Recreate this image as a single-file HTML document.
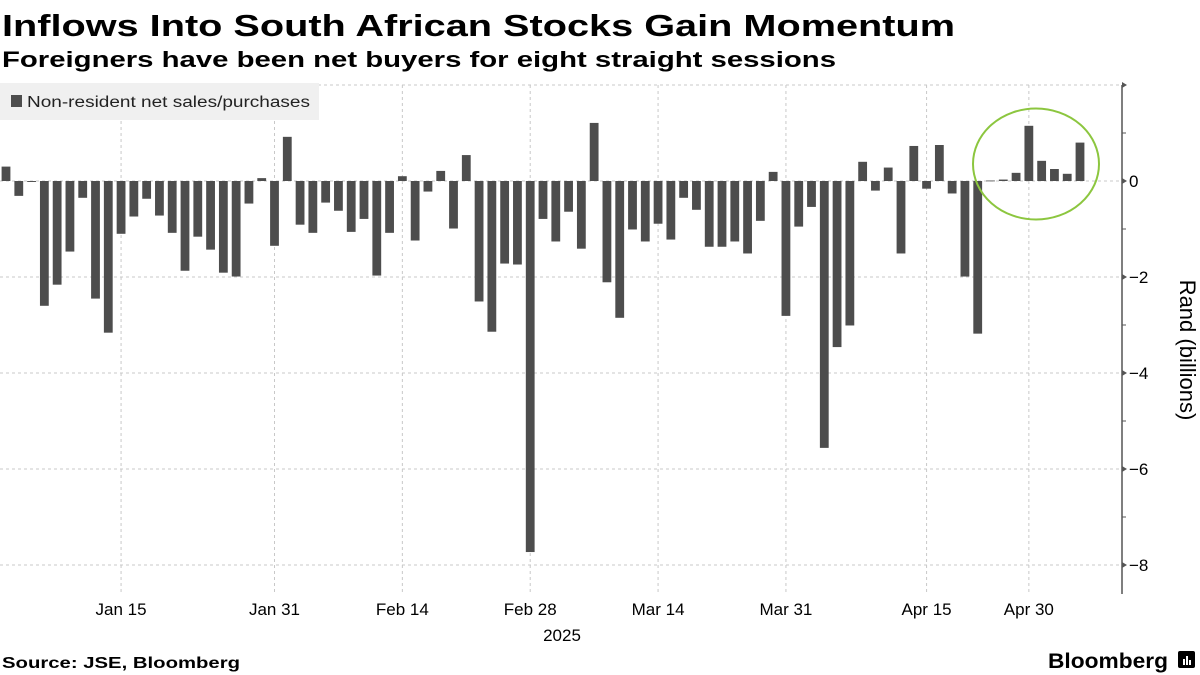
<!DOCTYPE html>
<html><head><meta charset="utf-8"><style>
html,body{margin:0;padding:0;background:#fff;}
svg{display:block;font-family:"Liberation Sans",sans-serif;}
</style></head><body>
<svg id="chart" width="1200" height="675" viewBox="0 0 1200 675">
<text x="2" y="36" font-size="31" font-weight="bold" fill="#000" textLength="953" lengthAdjust="spacingAndGlyphs">Inflows Into South African Stocks Gain Momentum</text>
<text x="2" y="67" font-size="22" font-weight="bold" fill="#000" textLength="834" lengthAdjust="spacingAndGlyphs">Foreigners have been net buyers for eight straight sessions</text>
<g id="grid"></g>
<g id="bars"></g>
<g id="axis"></g>
<g id="xaxis"></g>
<g>
<rect x="0" y="83" width="319" height="37" fill="#f0f0f0"/>
<rect x="11" y="95" width="11" height="12" fill="#4d4d4d"/>
<text x="27" y="107" font-size="15.5" fill="#222" textLength="283" lengthAdjust="spacingAndGlyphs">Non-resident net sales/purchases</text>
</g>
<ellipse cx="1036" cy="164" rx="63" ry="55.5" fill="none" stroke="#8cc63f" stroke-width="2"/>
<text transform="translate(1180,350) rotate(90)" text-anchor="middle" font-size="22" fill="#000">Rand (billions)</text>
<text x="2" y="668" font-size="16" font-weight="bold" fill="#000" textLength="238" lengthAdjust="spacingAndGlyphs">Source: JSE, Bloomberg</text>
<text x="1048" y="668" font-size="21" font-weight="bold" fill="#000" textLength="120" lengthAdjust="spacingAndGlyphs">Bloomberg</text>
<g><rect x="1178" y="651" width="17" height="17" rx="2" fill="#000"/><rect x="1183" y="659" width="2" height="6" fill="#fff"/><rect x="1186" y="656" width="2" height="9" fill="#fff"/><rect x="1189" y="660" width="2" height="5" fill="#fff"/></g>
</svg>
<script>
const values=[0.30,-0.31,-0.02,-2.6,-2.16,-1.47,-0.35,-2.45,-3.16,-1.10,-0.74,-0.37,-0.72,-1.08,-1.87,-1.16,-1.43,-1.91,-1.99,-0.47,0.06,-1.35,0.92,-0.91,-1.08,-0.45,-0.62,-1.06,-0.79,-1.97,-1.08,0.10,-1.24,-0.22,0.21,-0.99,0.54,-2.51,-3.14,-1.72,-1.74,-7.73,-0.79,-1.26,-0.64,-1.41,1.21,-2.11,-2.85,-1.01,-1.26,-0.89,-1.22,-0.35,-0.60,-1.37,-1.37,-1.26,-1.51,-0.83,0.19,-2.81,-0.95,-0.54,-5.56,-3.46,-3.01,0.40,-0.20,0.28,-1.51,0.73,-0.16,0.75,-0.26,-1.99,-3.18,0.01,0.03,0.17,1.15,0.42,0.25,0.15,0.80];
const xTickLabels=["Jan 15","Jan 31","Feb 14","Feb 28","Mar 14","Mar 31","Apr 15","Apr 30"];
const xTickIndex=[9,21,31,41,51,61,72,80];
const yTicks=[2,0,-2,-4,-6,-8];
const yTickLabels=["","0","-2","-4","-6","-8"];
const NS="http://www.w3.org/2000/svg";
const x0=6,x1=1080;
function xs(i){return x0+(x1-x0)*i/(values.length-1);}
function ys(v){return 181-48*v;}
function mk(tag,attrs,parent){const e=document.createElementNS(NS,tag);for(const k in attrs)e.setAttribute(k,attrs[k]);parent.appendChild(e);return e;}
const grid=document.getElementById('grid'),bars=document.getElementById('bars'),axis=document.getElementById('axis'),xaxis=document.getElementById('xaxis');
yTicks.forEach(function(t){
  const l=mk('line',{x1:0,x2:1122,y1:ys(t),y2:ys(t),stroke:'#c8c8c8','stroke-dasharray':'3,3','stroke-width':1},grid);
  
  
});
xTickIndex.forEach(function(i,k){
  const l=mk('line',{x1:xs(i),x2:xs(i),y1:85,y2:595,stroke:'#c8c8c8','stroke-dasharray':'3,3','stroke-width':1},grid);
  
  
  const t=mk('text',{x:xs(i),y:615,'text-anchor':'middle','font-size':17,fill:'#000'},xaxis);
  t.textContent=xTickLabels[k];
  
  
});
const yr=mk('text',{x:562,y:641,'text-anchor':'middle','font-size':17,fill:'#000'},xaxis);
yr.textContent='2025';


values.forEach(function(v,i){
  const y=Math.min(ys(v),ys(0)),h=Math.max(Math.abs(ys(v)-ys(0)),0.8);
  const r=mk('rect',{x:xs(i)-4.4,y:y,width:8.8,height:h,fill:'#4d4d4d'},bars);
  
  
});
mk('line',{x1:1122,x2:1122,y1:85,y2:594,stroke:'#555','stroke-width':1.5},axis);
for(let v=2;v>=-8;v--){
  const y=ys(v);
  if(v%2===0){mk('path',{d:'M1122 '+(y-3)+' L1127 '+y+' L1122 '+(y+3)+'Z',fill:'#555'},axis);}
  else{mk('line',{x1:1122,x2:1126,y1:y,y2:y,stroke:'#555'},axis);}
}
yTicks.forEach(function(t,k){
  if(!yTickLabels[k])return;
  const tx=mk('text',{x:1129,y:ys(t)+6,'font-size':17,fill:'#000'},axis);
  tx.textContent=yTickLabels[k].replace('-','\u2212');
  
  
});
</script>
</body></html>
